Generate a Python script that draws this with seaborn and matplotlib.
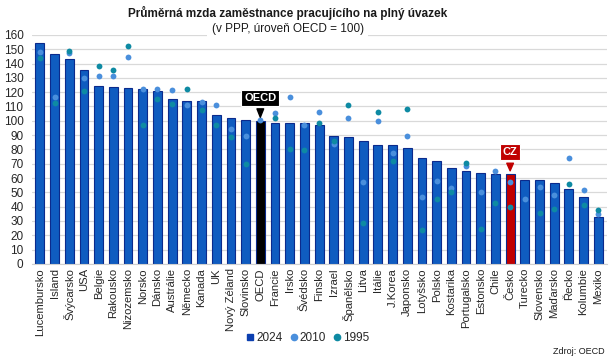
import numpy as np
import pandas as pd
import matplotlib
matplotlib.use('Agg')
import matplotlib.pyplot as plt
from matplotlib.lines import Line2D
import seaborn as sns

# data
countries = ['Lucembursko', 'Island', 'Švýcarsko', 'USA', 'Belgie', 'Rakousko', 'Nizozemsko',
             'Norsko', 'Dánsko', 'Austrálie', 'Německo', 'Kanada', 'UK', 'Nový Zéland',
             'Slovinsko', 'OECD', 'Francie', 'Irsko', 'Švédsko', 'Finsko', 'Izrael',
             'Španělsko', 'Litva', 'Itálie', 'J.Korea', 'Japonsko', 'Lotyšsko', 'Polsko',
             'Kostarika', 'Portugalsko', 'Estonsko', 'Chile', 'Česko', 'Turecko',
             'Slovensko', 'Maďarsko', 'Řecko', 'Kolumbie', 'Mexiko']
v2024 = [154.7, 147.0, 143.0, 135.6, 124.2, 123.7, 123.0, 122.3, 121.0, 115.3, 113.7, 113.5,
         104.0, 101.9, 100.7, 100.0, 98.6, 98.4, 98.4, 97.0, 89.1, 88.6, 86.0, 83.0, 83.0,
         80.7, 74.2, 71.6, 67.2, 64.9, 63.3, 62.6, 62.6, 58.8, 58.4, 56.7, 52.1, 47.0, 32.8]
v2010 = [148.4, 116.3, 147.2, 129.8, 131.4, 131.0, 144.4, 122.3, 122.3, 121.2, 111.0, 113.3,
         111.2, 94.0, 89.3, 100.2, 105.1, 116.7, 97.4, 105.8, 83.5, 101.9, 57.4, 99.5, 77.7,
         89.5, 46.5, 57.9, 52.8, 68.4, 50.2, 65.1, 57.2, 45.3, 54.0, 48.4, 74.2, 51.4, 34.9]
v1995 = [144.2, 112.3, 148.8, 120.7, 138.6, 135.6, 152.6, 97.2, 115.3, 111.9, 121.9, 107.7,
         97.0, 88.8, 69.5, np.nan, 102.1, 80.5, 79.5, 98.1, 86.0, 111.2, 28.6, 106.0, 72.1,
         107.9, 24.0, 45.1, 50.2, 70.7, 24.4, 42.6, 39.5, np.nan, 35.3, 38.6, 56.0, 40.9, 37.7]

bar_blue = '#0f5cc0'
c2010 = '#4a8fdc'
c1995 = '#0e8aa3'

df = pd.DataFrame({'zeme': countries, 'y2024': v2024, 'y2010': v2010, 'y1995': v1995})
bar_colors = [bar_blue] * len(countries)
bar_colors[countries.index('OECD')] = '#000000'
bar_colors[countries.index('Česko')] = '#c00000'

sns.set_style('white')
plt.rcParams['font.family'] = ['Liberation Sans', 'DejaVu Sans']

fig = plt.figure(figsize=(6.12, 3.6), dpi=100)
ax = fig.add_axes([0.052, 0.267, 0.94, 0.636])

sns.barplot(data=df, x='zeme', y='y2024', hue='zeme', palette=bar_colors, legend=False,
            width=0.6, edgecolor='#0b2a8c', linewidth=0.8, saturation=1, ax=ax, zorder=2)
sns.stripplot(data=df, x='zeme', y='y2010', jitter=False, color=c2010, size=4.2,
              linewidth=0, ax=ax, zorder=3)
sns.stripplot(data=df, x='zeme', y='y1995', jitter=False, color=c1995, size=4.2,
              linewidth=0, ax=ax, zorder=3)

ax.set_ylim(0, 160)
ax.set_xlim(-0.55, len(countries) - 0.4)
ax.set_yticks(np.arange(0, 161, 10))
ax.yaxis.grid(True, color='#d9d9d9', linewidth=0.9, zorder=0)
ax.set_axisbelow(True)
ax.set_xlabel('')
ax.set_ylabel('')
ax.tick_params(axis='x', labelrotation=90, labelsize=8.1, length=0, pad=3)
ax.tick_params(axis='y', labelsize=8.5, length=0, pad=6)
for s in ['top', 'right', 'left']:
    ax.spines[s].set_visible(False)
ax.spines['bottom'].set_color('#d0d0d0')

# callouts
i_oecd = countries.index('OECD')
ax.annotate('OECD', xy=(i_oecd, v2024[i_oecd] + 0.5), xytext=(i_oecd, 116),
            ha='center', va='center', color='white', fontsize=8, fontweight='bold',
            bbox=dict(boxstyle='square,pad=0.25', fc='black', ec='white', lw=0.8),
            arrowprops=dict(arrowstyle='wedge,tail_width=0.6', fc='black', ec='black'),
            zorder=5)
i_cz = countries.index('Česko')
ax.annotate('CZ', xy=(i_cz, v2024[i_cz] + 0.5), xytext=(i_cz, 78),
            ha='center', va='center', color='white', fontsize=8, fontweight='bold',
            bbox=dict(boxstyle='square,pad=0.25', fc='#c00000', ec='white', lw=0.8),
            arrowprops=dict(arrowstyle='wedge,tail_width=0.6', fc='#c00000', ec='#c00000'),
            zorder=5)

fig.text(0.47, 0.92, '(v PPP, úroveň OECD = 100)', ha='center', va='center',
         fontsize=8.5, color='#1a1a1a', zorder=4,
         bbox=dict(boxstyle='square,pad=0.4', fc='white', ec='none'))
fig.text(0.47, 0.965, 'Průměrná mzda zaměstnance pracujícího na plný úvazek',
         ha='center', va='center', fontsize=8.5, fontweight='bold', color='#1a1a1a',
         zorder=6, bbox=dict(boxstyle='square,pad=0.3', fc='white', ec='none'))

handles = [Line2D([], [], marker='s', ls='', color='#0b3fb0', markersize=4.5),
           Line2D([], [], marker='o', ls='', color=c2010, markersize=4.5),
           Line2D([], [], marker='o', ls='', color=c1995, markersize=4.5)]
fig.legend(handles, ['2024', '2010', '1995'], loc='center', bbox_to_anchor=(0.503, 0.062),
           ncol=3, frameon=False, fontsize=8.5, handlelength=0.7, handletextpad=0.15,
           columnspacing=0.6, borderpad=0.2)

fig.text(0.988, 0.025, 'Zdroj: OECD', ha='right', va='center', fontsize=6.5, color='#1a1a1a')

fig.savefig('out.png', dpi=100)
